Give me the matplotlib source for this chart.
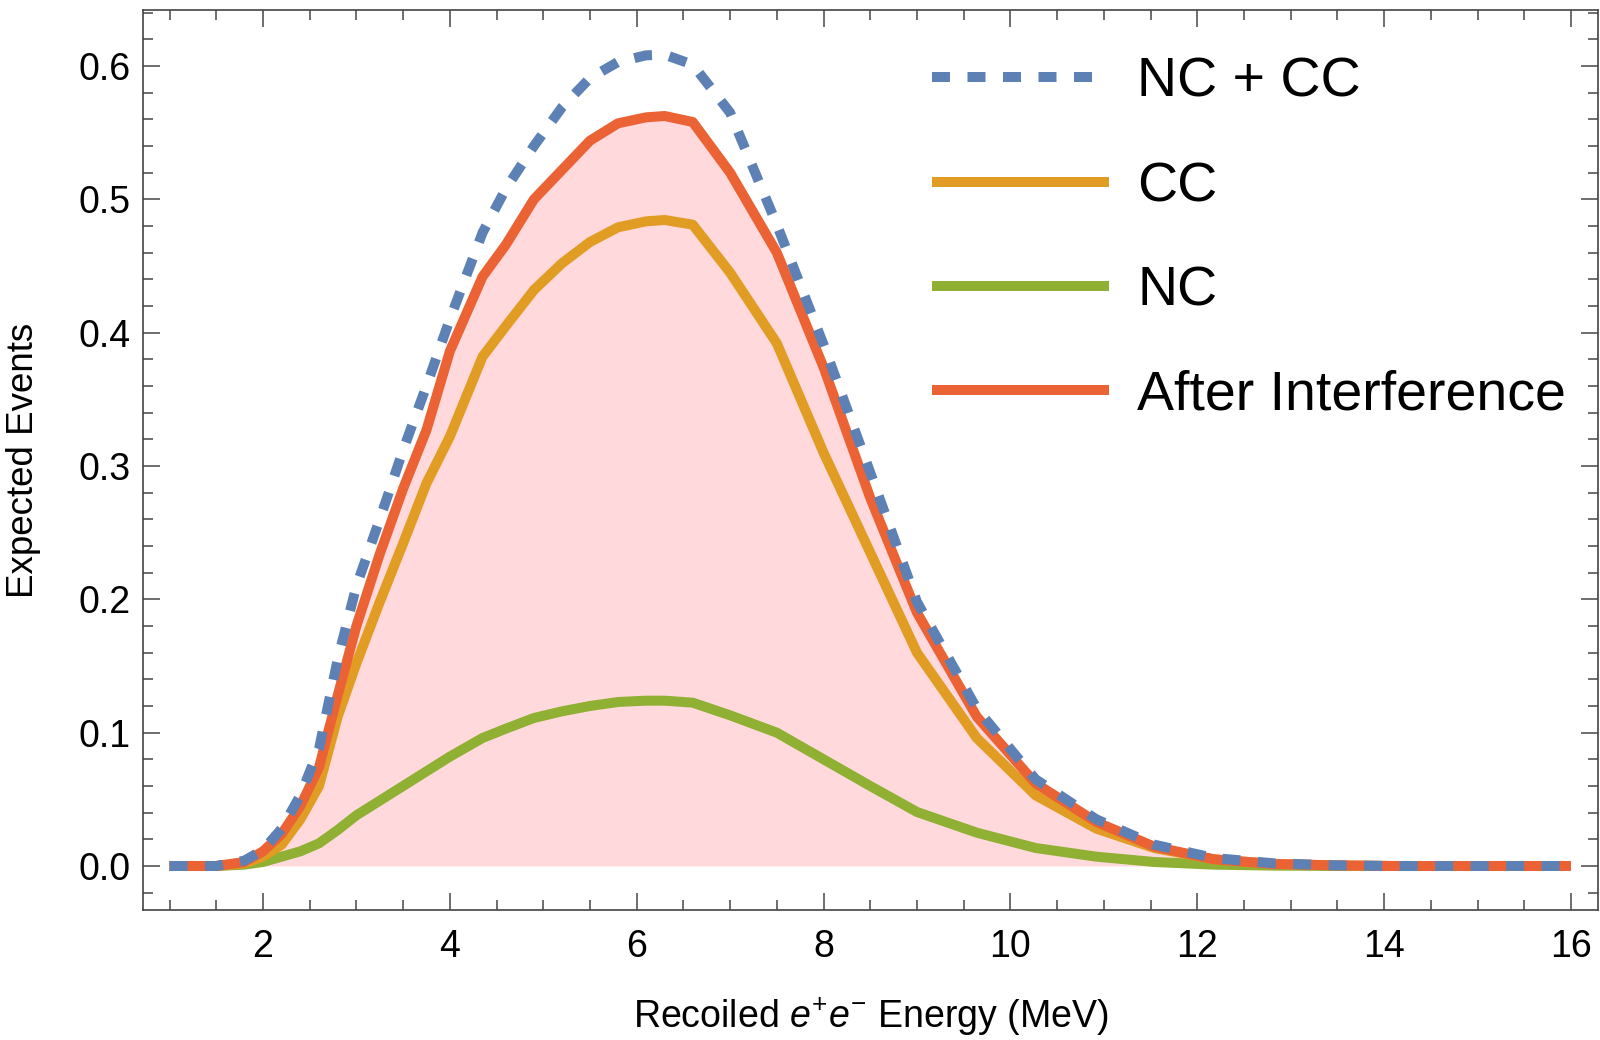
import matplotlib
matplotlib.use("Agg")
import matplotlib.pyplot as plt
from matplotlib.ticker import MultipleLocator, FormatStrFormatter

plt.rcParams['font.family'] = ['Liberation Sans', 'DejaVu Sans']
plt.rcParams['mathtext.fontset'] = 'custom'
plt.rcParams['mathtext.rm'] = 'Liberation Sans'
plt.rcParams['mathtext.it'] = 'Liberation Sans:italic'

# Energy grid (MeV)
energy = [1.0, 1.5, 1.8, 2.0, 2.2, 2.4, 2.6, 2.8, 3.0, 3.25, 3.5, 3.75, 4.0,
          4.35, 4.6, 4.9, 5.2, 5.5, 5.8, 6.1, 6.3, 6.6, 7.0, 7.5, 8.0, 8.5,
          9.0, 9.64, 10.27, 10.92, 11.54, 12.18, 12.82, 13.46, 14.1, 14.74,
          15.38, 16.0]

nc_plus_cc = [0, 0, 0.004, 0.012, 0.028, 0.053, 0.088, 0.155, 0.210, 0.260,
              0.312, 0.360, 0.410, 0.475, 0.508, 0.540, 0.569, 0.591, 0.603,
              0.608, 0.6085, 0.601, 0.565, 0.481, 0.391, 0.295, 0.198, 0.118,
              0.065, 0.035, 0.016, 0.006, 0.002, 0.0005, 0, 0, 0, 0]

cc = [0, 0, 0.002, 0.007, 0.016, 0.035, 0.060, 0.112, 0.152, 0.198, 0.242,
      0.287, 0.322, 0.382, 0.405, 0.432, 0.452, 0.468, 0.479, 0.4835, 0.4845,
      0.481, 0.445, 0.392, 0.310, 0.235, 0.160, 0.096, 0.053, 0.028, 0.0135,
      0.005, 0.0015, 0.0005, 0, 0, 0, 0]

nc = [0, 0, 0.001, 0.003, 0.007, 0.011, 0.017, 0.027, 0.038, 0.049, 0.060,
      0.071, 0.082, 0.096, 0.103, 0.111, 0.116, 0.120, 0.123, 0.124, 0.124,
      0.1225, 0.113, 0.100, 0.080, 0.060, 0.0405, 0.025, 0.0135, 0.007,
      0.003, 0.001, 0.0003, 0, 0, 0, 0, 0]

after_interference = [0, 0, 0.003, 0.011, 0.024, 0.045, 0.074, 0.128, 0.180,
                      0.234, 0.283, 0.327, 0.386, 0.442, 0.466, 0.500, 0.522,
                      0.544, 0.557, 0.5615, 0.5625, 0.558, 0.520, 0.460, 0.374,
                      0.276, 0.190, 0.112, 0.062, 0.033, 0.0145, 0.005, 0.0015,
                      0.0005, 0, 0, 0, 0]

labels = ["NC + CC", "CC", "NC", "After Interference"]
colors = ["#5E81B5", "#E19C24", "#8FB032", "#EB6235"]
fill_color = "#FFD9DC"

fig = plt.figure(figsize=(16, 10.4), dpi=100)
ax = fig.add_axes([143/1600, 1 - 910/1040, 1455/1600, 900/1040])

LW = 7.2
ax.fill_between(energy, 0, after_interference, color=fill_color, lw=0, zorder=1)
l_nc, = ax.plot(energy, nc, color=colors[2], lw=LW, solid_capstyle='butt', zorder=2)
l_cc, = ax.plot(energy, cc, color=colors[1], lw=LW, solid_capstyle='butt', zorder=3)
l_ai, = ax.plot(energy, after_interference, color=colors[3], lw=LW,
                solid_capstyle='butt', zorder=4)
l_sum, = ax.plot(energy, nc_plus_cc, color=colors[0], lw=LW, dashes=(1.8, 1.75),
                 dash_capstyle='butt', zorder=5)

ax.set_xlim(0.716, 16.289)
ax.set_ylim(-0.033, 0.642)

ax.xaxis.set_major_locator(MultipleLocator(2))
ax.xaxis.set_minor_locator(MultipleLocator(0.5))
ax.yaxis.set_major_locator(MultipleLocator(0.1))
ax.yaxis.set_minor_locator(MultipleLocator(0.02))
ax.yaxis.set_major_formatter(FormatStrFormatter('%.1f'))

ax.tick_params(which='both', direction='in', top=True, right=True,
               color='#555555', width=1.2, labelsize=27)
ax.tick_params(which='major', length=12, pad=14)
ax.tick_params(which='minor', length=7.5)
ax.tick_params(axis='y', which='major', pad=9)
for s in ax.spines.values():
    s.set_color('#444444')
    s.set_linewidth(1.2)

ax.set_xlabel(r"Recoiled $e^{+}e^{-}$ Energy (MeV)", fontsize=27, labelpad=22)
ax.set_ylabel("Expected Events", fontsize=26.5, labelpad=27)

leg = ax.legend([l_sum, l_cc, l_nc, l_ai], labels, loc='upper left',
                bbox_to_anchor=(0.542, 0.948), frameon=False, fontsize=40,
                handlelength=3.2, handletextpad=0.5, labelspacing=0.94,
                borderaxespad=0, borderpad=0)

fig.savefig("out.png", dpi=100, facecolor='white')
